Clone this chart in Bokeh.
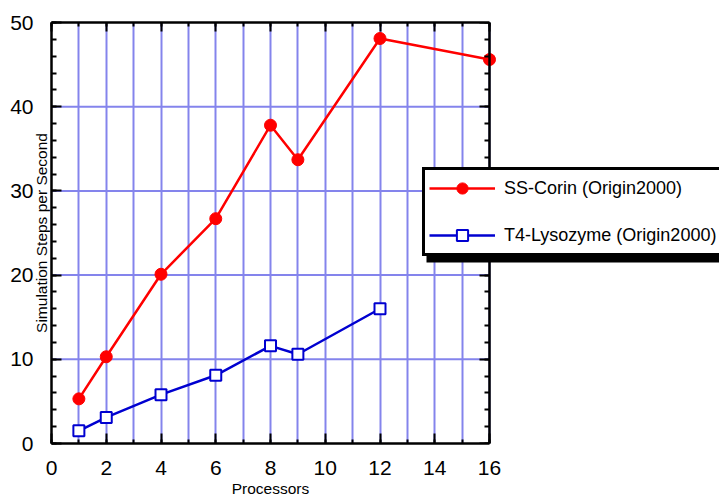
from bokeh.plotting import figure
from bokeh.models import (Range1d, LinearAxis, FixedTicker, Legend, LegendItem,
                          ColumnDataSource, Grid, SingleIntervalTicker, BoxAnnotation, Title)
from bokeh.embed import file_html
from bokeh.resources import INLINE

# ---- data ----
processors_corin = [1, 2, 4, 6, 8, 9, 12, 16]
steps_corin = [5.3, 10.3, 20.1, 26.7, 37.8, 33.7, 48.1, 45.6]
processors_lyso = [1, 2, 4, 6, 8, 9, 12]
steps_lyso = [1.5, 3.1, 5.8, 8.1, 11.6, 10.6, 16.0]
series_names = ["SS-Corin (Origin2000)", "T4-Lysozyme (Origin2000)"]
x_ticks = [0, 2, 4, 6, 8, 10, 12, 14, 16]
x_minor = list(range(0, 17))
y_ticks = [0, 10, 20, 30, 40, 50]
y_minor = list(range(0, 51, 2))
x_label = "Processors"
y_label = "Simulation Steps per Second"

FONT = "Liberation Sans"
GRID = "#8484ec"

# layout: frame spans to the right canvas edge; the visible axes box stops at x=16
W, H = 719, 497
LEFT, TOP, BOTTOM = 51, 22, 52
AXES_W = 438.0                         # pixel width of the 0..16 box
frame_w = W - LEFT
x_lo, x_hi = x_ticks[0], x_ticks[-1]
x_end = x_lo + (x_hi - x_lo) * frame_w / AXES_W

p = figure(width=W, height=H, output_backend="svg", toolbar_location=None,
           x_range=Range1d(x_lo, x_end), y_range=Range1d(y_ticks[0], y_ticks[-1]),
           x_axis_type=None, y_axis_type=None,
           min_border_left=LEFT, min_border_right=0,
           min_border_top=TOP, min_border_bottom=BOTTOM)
p.outline_line_color = None
p.background_fill_color = "white"
p.border_fill_color = "white"

# vertical grid (every processor count, limited to the box)
p.add_layout(Grid(dimension=0, bounds=(x_lo, x_hi),
                  ticker=SingleIntervalTicker(interval=1, num_minor_ticks=0),
                  grid_line_color=GRID, grid_line_width=2))
# horizontal grid lines limited to the box
inner_y = y_ticks[1:-1]
p.segment(x0=[x_lo] * len(inner_y), x1=[x_hi] * len(inner_y), y0=inner_y, y1=inner_y,
          line_color=GRID, line_width=2)


def style_axis(ax, tin, tout, minin, minout):
    ax.axis_line_width = 2.5
    ax.axis_line_color = "black"
    ax.major_tick_in = tin
    ax.major_tick_out = tout
    ax.minor_tick_in = minin
    ax.minor_tick_out = minout
    ax.major_tick_line_width = 2
    ax.minor_tick_line_width = 2
    ax.major_tick_line_color = "black"
    ax.minor_tick_line_color = "black"


xticker = FixedTicker(ticks=x_ticks, minor_ticks=x_minor)
yticker = FixedTicker(ticks=y_ticks, minor_ticks=y_minor)

bottom = LinearAxis(ticker=xticker, bounds=(x_lo, x_hi))
style_axis(bottom, 10, 0, 4, 0)
bottom.major_label_text_font = FONT
bottom.major_label_text_font_size = "21px"
bottom.major_label_text_color = "black"
bottom.major_label_standoff = 17
p.add_layout(bottom, "below")

# x-axis title, centred under the 0..16 box
XL_SIZE = 15.5
xl_width = 5.0 * XL_SIZE               # approx. width of the title text
p.add_layout(Title(text=x_label, align="left", offset=AXES_W / 2.0 - xl_width / 2.0,
                   standoff=1, text_font=FONT, text_font_size=f"{XL_SIZE}px",
                   text_font_style="normal", text_color="black"), "below")

top = LinearAxis(ticker=xticker, bounds=(x_lo, x_hi),
                 major_label_overrides={t: "" for t in x_ticks})
style_axis(top, 9, 0, 4, 0)
top.major_label_text_font_size = "1px"
top.major_label_standoff = 0
p.add_layout(top, "above")

left = LinearAxis(ticker=yticker, axis_label=y_label)
style_axis(left, 10, 0, 5, 0)
left.major_label_text_font = FONT
left.major_label_text_font_size = "21px"
left.major_label_text_color = "black"
left.major_label_standoff = 18
left.axis_label_text_font = FONT
left.axis_label_text_font_size = "15.5px"
left.axis_label_text_font_style = "normal"
left.axis_label_text_color = "black"
left.axis_label_standoff = -43
p.add_layout(left, "left")

# right-hand axis of the box, drawn at x=16 with ticks pointing into the box
right = LinearAxis(ticker=yticker, fixed_location=x_hi,
                   major_label_overrides={t: "" for t in y_ticks})
style_axis(right, 0, 10, 0, 5)
right.major_label_text_font_size = "1px"
right.major_label_standoff = 0
p.add_layout(right, "left")

# series
src_c = ColumnDataSource(dict(x=processors_corin, y=steps_corin))
src_l = ColumnDataSource(dict(x=processors_lyso, y=steps_lyso))
r1 = p.line("x", "y", source=src_c, line_color="#ff0000", line_width=2.5)
r2 = p.scatter("x", "y", source=src_c, marker="circle", size=12,
               fill_color="#ff0000", line_color="#ff0000")
r3 = p.line("x", "y", source=src_l, line_color="#0000d0", line_width=2.5)
r4 = p.scatter("x", "y", source=src_l, marker="square", size=11,
               fill_color="white", line_color="#0000d0", line_width=2)

# legend with a drop shadow
LEG_X, LEG_Y = 371, 187
p.add_layout(BoxAnnotation(left=LEG_X + 4, right=LEG_X + 400, bottom=LEG_Y - 6, top=LEG_Y + 40,
                           left_units="screen", right_units="screen",
                           bottom_units="screen", top_units="screen",
                           fill_color="black", fill_alpha=1.0, line_color=None))
items = [LegendItem(label=series_names[0], renderers=[r1, r2]),
         LegendItem(label=series_names[1], renderers=[r3, r4])]
p.add_layout(Legend(items=items, location=(LEG_X, LEG_Y), margin=0, padding=4,
                    glyph_width=66, glyph_height=28, label_height=28, spacing=19,
                    label_standoff=9, label_text_font=FONT, label_text_font_size="18px",
                    label_text_color="black",
                    border_line_color="black", border_line_width=3, border_line_alpha=1.0,
                    background_fill_color="white", background_fill_alpha=1.0), "center")

open("out.html", "w").write(file_html(p, INLINE))
